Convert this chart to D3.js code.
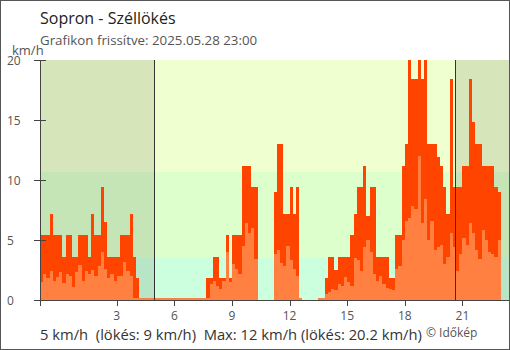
<!DOCTYPE html>
<html>
<head>
<meta charset="utf-8">
<script src="https://cdn.jsdelivr.net/npm/d3@7"></script>
<style>
  html, body { margin: 0; padding: 0; background: #fff; }
  svg { display: block; font-family: "Open Sans", sans-serif; }
</style>
</head>
<body>
<svg id="chart" width="510" height="350"></svg>
<script>
// Station and header texts
const titleText = "Sopron - Széllökés";
const updatedText = "Grafikon frissítve: 2025.05.28 23:00";
const unitLabel = "km/h";
const creditText = "© Időkép";

// Latest and daily maximum readings (km/h)
const currentWind = 5;
const currentGust = 9;
const maxWind = 12;
const maxGust = 20.2;

// 10-minute readings for the last 24 hours, km/h (null = no data);
// the first reading starts at 23:00 of the previous day
const startHour = -1;
const stepMinutes = 10;
const gustKmh = [
  5.4,5.4,5.4,7.2,5.4,5.4,5.4,3.6,5.4,5.4,3.6,3.6,5.4,5.4,5.4,3.6,7.2,5.4,5.4,9.4,6.5,3.6,3.6,3.6,
  3.6,5.4,5.4,5.4,7.2,3.6,1.8,0,0,0,0,0,0,0,0,0,0,0,0,0,0,0,0,0,
  0,0,0,0,1.8,1.8,3.6,3.6,1.8,1.8,5.4,1.8,5.4,5.4,5.4,11.2,11.2,11.2,9.4,9.4,null,null,null,null,
  null,9.0,13.0,13.0,7.2,7.2,9.4,7.2,9.4,0,null,null,null,null,null,0,0,1.8,3.6,3.6,2.5,3.6,3.6,3.6,
  3.6,5.4,7.2,9.4,9.4,11.2,7.0,9.4,9.4,3.6,3.6,3.6,3.6,1.8,1.8,5.4,5.4,11.2,13.0,20.2,18.4,18.4,20.2,18.4,
  20.2,13.0,13.0,13.0,11.9,11.2,9.4,7.2,18.4,9.4,9.4,9.4,11.2,11.2,18.4,14.8,13.0,13.0,11.2,11.2,11.2,11.2,9.4,9.0
];
const windKmh = [
  1.5,2.2,1.8,2.4,1.6,1.9,2.3,1.4,2.2,2.0,1.1,2.3,2.9,1.6,2.4,2.2,2.5,2.0,2.8,4.0,2.6,1.8,2.2,1.6,
  2.0,2.0,3.2,2.4,2.0,0.2,0,0,0,0,0,0,0,0,0,0,0,0,0,0,0,0,0,0,
  0,0,0,0,0,1.3,1.6,1.2,0.9,1.6,4.0,1.5,3.0,2.6,2.2,4.5,6.4,5.6,6.0,3.4,null,null,null,null,
  null,3.8,4.2,3.1,2.8,4.5,3.3,2.6,2.0,0,null,null,null,null,null,0,0,0.5,0.7,0.9,0.8,1.3,1.2,1.9,
  1.5,1.2,3.5,3.3,2.4,4.4,5.0,4.0,2.2,1.6,2.0,1.3,1.0,0.9,0.8,2.6,2.8,5.0,6.6,6.8,7.8,7.6,12.0,6.4,
  8.4,5.0,6.6,4.2,4.4,4.6,3.0,3.6,5.6,4.4,2.4,3.8,5.2,4.6,6.4,5.6,4.2,3.4,5.8,5.0,4.0,3.8,3.6,5.0
];

// Axes
const yTicks = [0, 5, 10, 15, 20];
const xTicks = [3, 6, 9, 12, 15, 18, 21];

// Wind-strength background bands (km/h) and their colours
const bandBreaks = [0, 3.5, 10.7, 20];
const bandColors = ["#ccffdd", "#ddffcc", "#f0ffd0"];

// Sunrise and sunset (hours)
const sunrise = 4.95;
const sunset = 20.63;

const colors = { gust: "#ff4400", wind: "#ff8040", axis: "#444", text: "#555", title: "#222" };

const svg = d3.select("#chart");
const W = 510, H = 350;
const plot = { left: 40, top: 60, right: 509, bottom: 300 };
const pxPerHour = 19.2;
const endHour = startHour + (plot.right - plot.left) / pxPerHour;

const x = d3.scaleLinear().domain([startHour, endHour]).range([plot.left, plot.right]);
const y = d3.scaleLinear().domain([0, 20]).range([plot.bottom, plot.top]);

// Background bands
svg.append("g").selectAll("rect")
  .data(bandColors)
  .join("rect")
  .attr("x", plot.left)
  .attr("width", plot.right - plot.left)
  .attr("y", (d, i) => y(bandBreaks[i + 1]))
  .attr("height", (d, i) => y(bandBreaks[i]) - y(bandBreaks[i + 1]))
  .attr("fill", d => d)
  .attr("shape-rendering", "crispEdges");

// Night shading
const nightSpans = [[startHour, sunrise], [sunset, endHour]];
svg.append("g").selectAll("rect")
  .data(nightSpans)
  .join("rect")
  .attr("x", d => x(d[0]))
  .attr("width", d => x(d[1]) - x(d[0]))
  .attr("y", plot.top)
  .attr("height", plot.bottom - plot.top)
  .attr("fill", "#000")
  .attr("fill-opacity", 0.1)
  .attr("shape-rendering", "crispEdges");

// Bars: gusts behind, mean wind in front
const stepH = stepMinutes / 60;
function drawBars(values, fill) {
  const pts = values.map((v, i) => ({ v, t: startHour + i * stepH })).filter(d => d.v !== null);
  svg.append("g").selectAll("rect")
    .data(pts)
    .join("rect")
    .attr("x", d => x(d.t))
    .attr("width", d => x(d.t + stepH) - x(d.t))
    .attr("y", d => d.v > 0 ? y(Math.min(d.v, 20)) : plot.bottom - 2)
    .attr("height", d => d.v > 0 ? plot.bottom - y(Math.min(d.v, 20)) : 2)
    .attr("fill", d => d.v > 0 ? fill : colors.wind)
    .attr("shape-rendering", "crispEdges");
}
drawBars(gustKmh, colors.gust);
drawBars(windKmh, colors.wind);

// Sunrise / sunset lines
svg.append("g").selectAll("line")
  .data([sunrise, sunset])
  .join("line")
  .attr("x1", d => Math.round(x(d)) + 0.5)
  .attr("x2", d => Math.round(x(d)) + 0.5)
  .attr("y1", plot.top)
  .attr("y2", plot.bottom)
  .attr("stroke", "#333")
  .attr("stroke-width", 1);

// Y axis
const yAxis = svg.append("g");
yAxis.append("line")
  .attr("x1", plot.left + 0.5).attr("x2", plot.left + 0.5)
  .attr("y1", plot.top).attr("y2", plot.bottom)
  .attr("stroke", colors.axis);
yAxis.selectAll("line.tick")
  .data(yTicks)
  .join("line")
  .attr("class", "tick")
  .attr("x1", plot.left - 6).attr("x2", plot.left + 6)
  .attr("y1", d => Math.round(y(d)) + 0.5)
  .attr("y2", d => Math.round(y(d)) + 0.5)
  .attr("stroke", colors.axis);
yAxis.selectAll("text")
  .data(yTicks)
  .join("text")
  .attr("x", 7)
  .attr("y", d => y(d) + 5)
  .attr("font-size", 12)
  .attr("fill", colors.text)
  .text(d => d);

svg.append("text")
  .attr("x", 12).attr("y", 54.5)
  .attr("font-size", 13)
  .attr("fill", colors.text)
  .text(unitLabel);

// X axis
const xAxis = svg.append("g");
xAxis.append("line")
  .attr("x1", plot.left).attr("x2", plot.right)
  .attr("y1", plot.bottom + 0.5).attr("y2", plot.bottom + 0.5)
  .attr("stroke", colors.axis);
xAxis.selectAll("line.tick")
  .data([startHour].concat(xTicks))
  .join("line")
  .attr("class", "tick")
  .attr("x1", d => Math.round(x(d)) + 0.5)
  .attr("x2", d => Math.round(x(d)) + 0.5)
  .attr("y1", plot.bottom).attr("y2", plot.bottom + 6)
  .attr("stroke", colors.axis);
xAxis.selectAll("text")
  .data(xTicks)
  .join("text")
  .attr("x", d => x(d))
  .attr("y", 319.5)
  .attr("text-anchor", "middle")
  .attr("font-size", 12)
  .attr("fill", colors.text)
  .text(d => d);

// Header
svg.append("text")
  .attr("x", 40).attr("y", 24)
  .attr("font-size", 16)
  .attr("fill", colors.title)
  .text(titleText);
svg.append("text")
  .attr("x", 40).attr("y", 45)
  .attr("font-size", 13.3)
  .attr("fill", colors.text)
  .text(updatedText);

// Summary line
svg.append("text")
  .attr("x", 40).attr("y", 340)
  .attr("font-size", 14.75)
  .attr("fill", "#333")
  .attr("xml:space", "preserve")
  .style("white-space", "pre")
  .text(`${currentWind} km/h  (lökés: ${currentGust} km/h)  Max: ${maxWind} km/h (lökés: ${maxGust} km/h)`);
svg.append("text")
  .attr("x", 426).attr("y", 337)
  .attr("font-size", 12)
  .attr("fill", colors.text)
  .text(creditText);

// Frame
svg.append("rect")
  .attr("x", 0.5).attr("y", 0.5)
  .attr("width", W - 1).attr("height", H - 1)
  .attr("fill", "none")
  .attr("stroke", "#555");
</script>
</body>
</html>
